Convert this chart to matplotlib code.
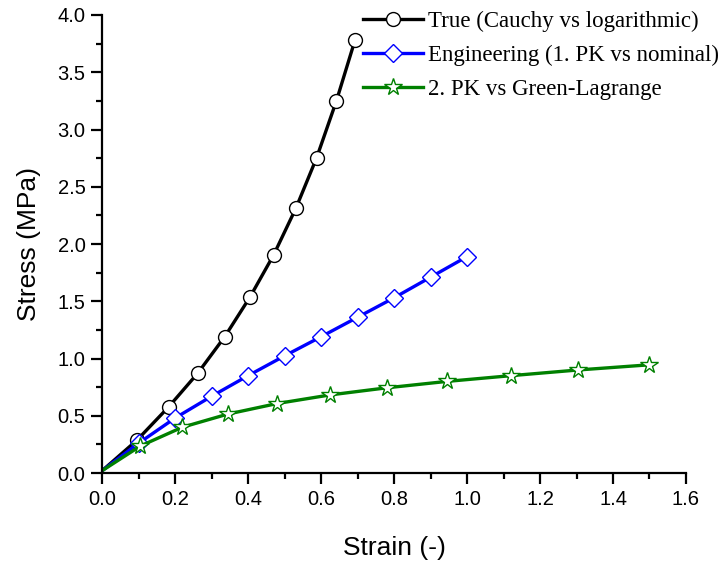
import matplotlib
matplotlib.use("Agg")
import matplotlib.pyplot as plt
from matplotlib.ticker import MultipleLocator

# True (Cauchy vs logarithmic)
true_strain = [0.0, 0.0953, 0.182, 0.262, 0.336, 0.405, 0.470, 0.531, 0.588, 0.642, 0.693]
true_stress = [0.02, 0.286, 0.576, 0.871, 1.19, 1.535, 1.904, 2.312, 2.754, 3.249, 3.78]
# Engineering (1. PK vs nominal)
eng_strain = [0.0, 0.1, 0.2, 0.3, 0.4, 0.5, 0.6, 0.7, 0.8, 0.9, 1.0]
eng_stress = [0.02, 0.26, 0.48, 0.67, 0.85, 1.023, 1.19, 1.36, 1.53, 1.71, 1.89]
# 2. PK vs Green-Lagrange
gl_strain = [0.0, 0.105, 0.22, 0.345, 0.48, 0.625, 0.78, 0.945, 1.12, 1.305, 1.5]
gl_stress = [0.02, 0.236, 0.40, 0.515, 0.607, 0.682, 0.744, 0.80, 0.85, 0.90, 0.945]

labels = ["True (Cauchy vs logarithmic)", "Engineering (1. PK vs nominal)", "2. PK vs Green-Lagrange"]

plt.rcParams['font.family'] = ['Liberation Sans', 'DejaVu Sans']

fig = plt.figure(figsize=(7.24, 5.66), dpi=100)
ax = fig.add_axes([0.141, 0.1643, 0.8065, 0.8092])

h1, = ax.plot(true_strain, true_stress, color='black', lw=2.4, marker='o', ms=10,
              mfc='white', mec='black', mew=1.0, markevery=list(range(1, len(true_strain))))
h2, = ax.plot(eng_strain, eng_stress, color='#0000ff', lw=2.4, marker='D', ms=9.5,
              mfc='white', mec='#0000ff', mew=1.0, markevery=list(range(1, len(eng_strain))))
h3, = ax.plot(gl_strain, gl_stress, color='#008000', lw=2.4, marker='*', ms=13,
              mfc='white', mec='#008000', mew=1.0, markevery=list(range(1, len(gl_strain))))

ax.set_xlim(0, 1.6)
ax.set_ylim(0, 4.0)
ax.xaxis.set_major_locator(MultipleLocator(0.2))
ax.xaxis.set_minor_locator(MultipleLocator(0.1))
ax.yaxis.set_major_locator(MultipleLocator(0.5))
ax.yaxis.set_minor_locator(MultipleLocator(0.25))
ax.set_xticklabels([f"{v:.1f}" for v in ax.get_xticks()])
ax.set_yticklabels([f"{v:.1f}" for v in ax.get_yticks()])

for s in ['top', 'right']:
    ax.spines[s].set_visible(False)
for s in ['left', 'bottom']:
    ax.spines[s].set_linewidth(1.6)
ax.tick_params(which='major', direction='out', length=8, width=1.6, labelsize=14.5, pad=4)
ax.tick_params(which='minor', direction='out', length=4.5, width=1.6)

ax.set_xlabel("Strain (-)", fontsize=19, labelpad=20)
ax.set_ylabel("Stress (MPa)", fontsize=19, labelpad=12)

leg = fig.legend([h1, h2, h3], labels, loc='upper left', bbox_to_anchor=(0.483, 1.005),
                 frameon=False, handlelength=2.6, handletextpad=0.2, labelspacing=0.55,
                 prop={'family': ['Liberation Serif', 'DejaVu Serif'], 'size': 16.5},
                 borderaxespad=0.2)

fig.savefig("out.png", dpi=100)
